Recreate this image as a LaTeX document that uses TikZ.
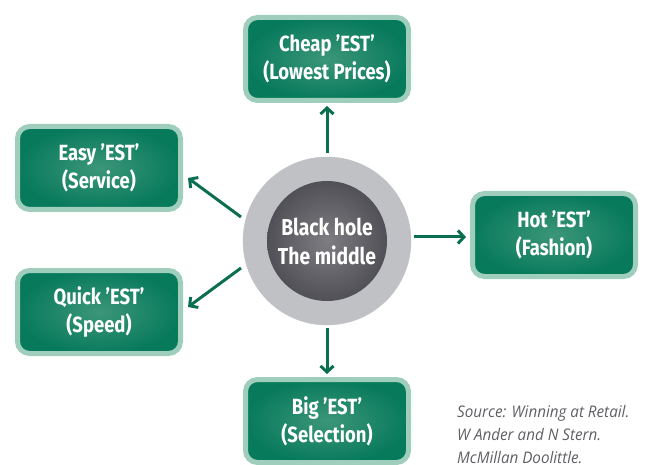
\documentclass[tikz,border=0pt]{standalone}
\usepackage{fontspec}
\setmainfont{Fira Sans}[FakeStretch=0.84]
\newfontfamily\sourcefont{Open Sans}[FakeStretch=0.95]
\usetikzlibrary{arrows.meta}
\usetikzlibrary{shadings}
\definecolor{estgreen}{RGB}{8, 122, 92}
\definecolor{estlight}{RGB}{60, 150, 120}
\definecolor{estrim}{RGB}{160, 206, 188}
\definecolor{arrowgreen}{RGB}{10, 110, 80}
\definecolor{holerim}{RGB}{192, 193, 197}
\definecolor{holedark}{RGB}{80, 80, 86}
\definecolor{holemid}{RGB}{125, 125, 130}
\definecolor{sourcegray}{RGB}{95, 95, 100}
\tikzset{
    estbox/.style={draw=estrim, line width=5pt, rounded corners=12pt,
        minimum width=163pt, minimum height=83pt, align=center,
        inner color=estlight, outer color=estgreen, text=white,
        font=\fontsize{22}{28}\selectfont\bfseries},
    estarrow/.style={draw=arrowgreen, line width=3pt,
        -{Straight Barb[length=6pt, width=13pt, line width=3pt]}}
}

\begin{document}
\begin{tikzpicture}[x=1pt, y=-1pt]
            \useasboundingbox (0,0) rectangle (648,465);
            \clip (0,0) rectangle (648,465);
            % middle circle
            \filldraw[color=holerim, fill=holerim]                ( 327.00, 241.00) circle (84.00);
            \shade[inner color=holemid, outer color=holedark]   ( 327.00, 241.00) circle (60.00);
            \node[text=white, align=center, font=\fontsize{23}{29}\selectfont\bfseries] (hole) at ( 327.00, 241.00) {Black hole\\The middle};
            % the five EST boxes
            \node[estbox] (cheap) at ( 327.00,  59.00) {Cheap 'EST'\\(Lowest Prices)};
            \node[estbox] (easy)  at (  99.00, 168.00) {Easy 'EST'\\(Service)};
            \node[estbox] (quick) at (  99.00, 312.00) {Quick 'EST'\\(Speed)};
            \node[estbox] (hot)   at ( 554.00, 235.00) {Hot 'EST'\\(Fashion)};
            \node[estbox] (big)   at ( 327.00, 421.00) {Big 'EST'\\(Selection)};
            % arrows out of the hole
            \coordinate (up)   at ( 327.00, 153.00);
            \coordinate (down) at ( 327.00, 328.00);
            \coordinate (rgt)  at ( 414.00, 237.00);
            \coordinate (ulft) at ( 241.00, 217.00);
            \coordinate (dlft) at ( 241.00, 268.00);
            \draw[estarrow] (up)   -- (cheap.south |- 0, 106);
            \draw[estarrow] (down) -- (big.north |- 0, 374);
            \draw[estarrow] (rgt)  -- (466, 237);
            \draw[estarrow] (ulft) -- (188, 178);
            \draw[estarrow] (dlft) -- (188, 307);
            % source
            \node[anchor=north west, align=left, text=sourcegray, inner sep=0pt,
                  font=\sourcefont\itshape\fontsize{16}{23}\selectfont] (source) at ( 457.00, 405.00)
                 {Source: Winning at Retail.\\W Ander and N Stern.\\McMillan Doolittle.};
        \end{tikzpicture}
\end{document}
